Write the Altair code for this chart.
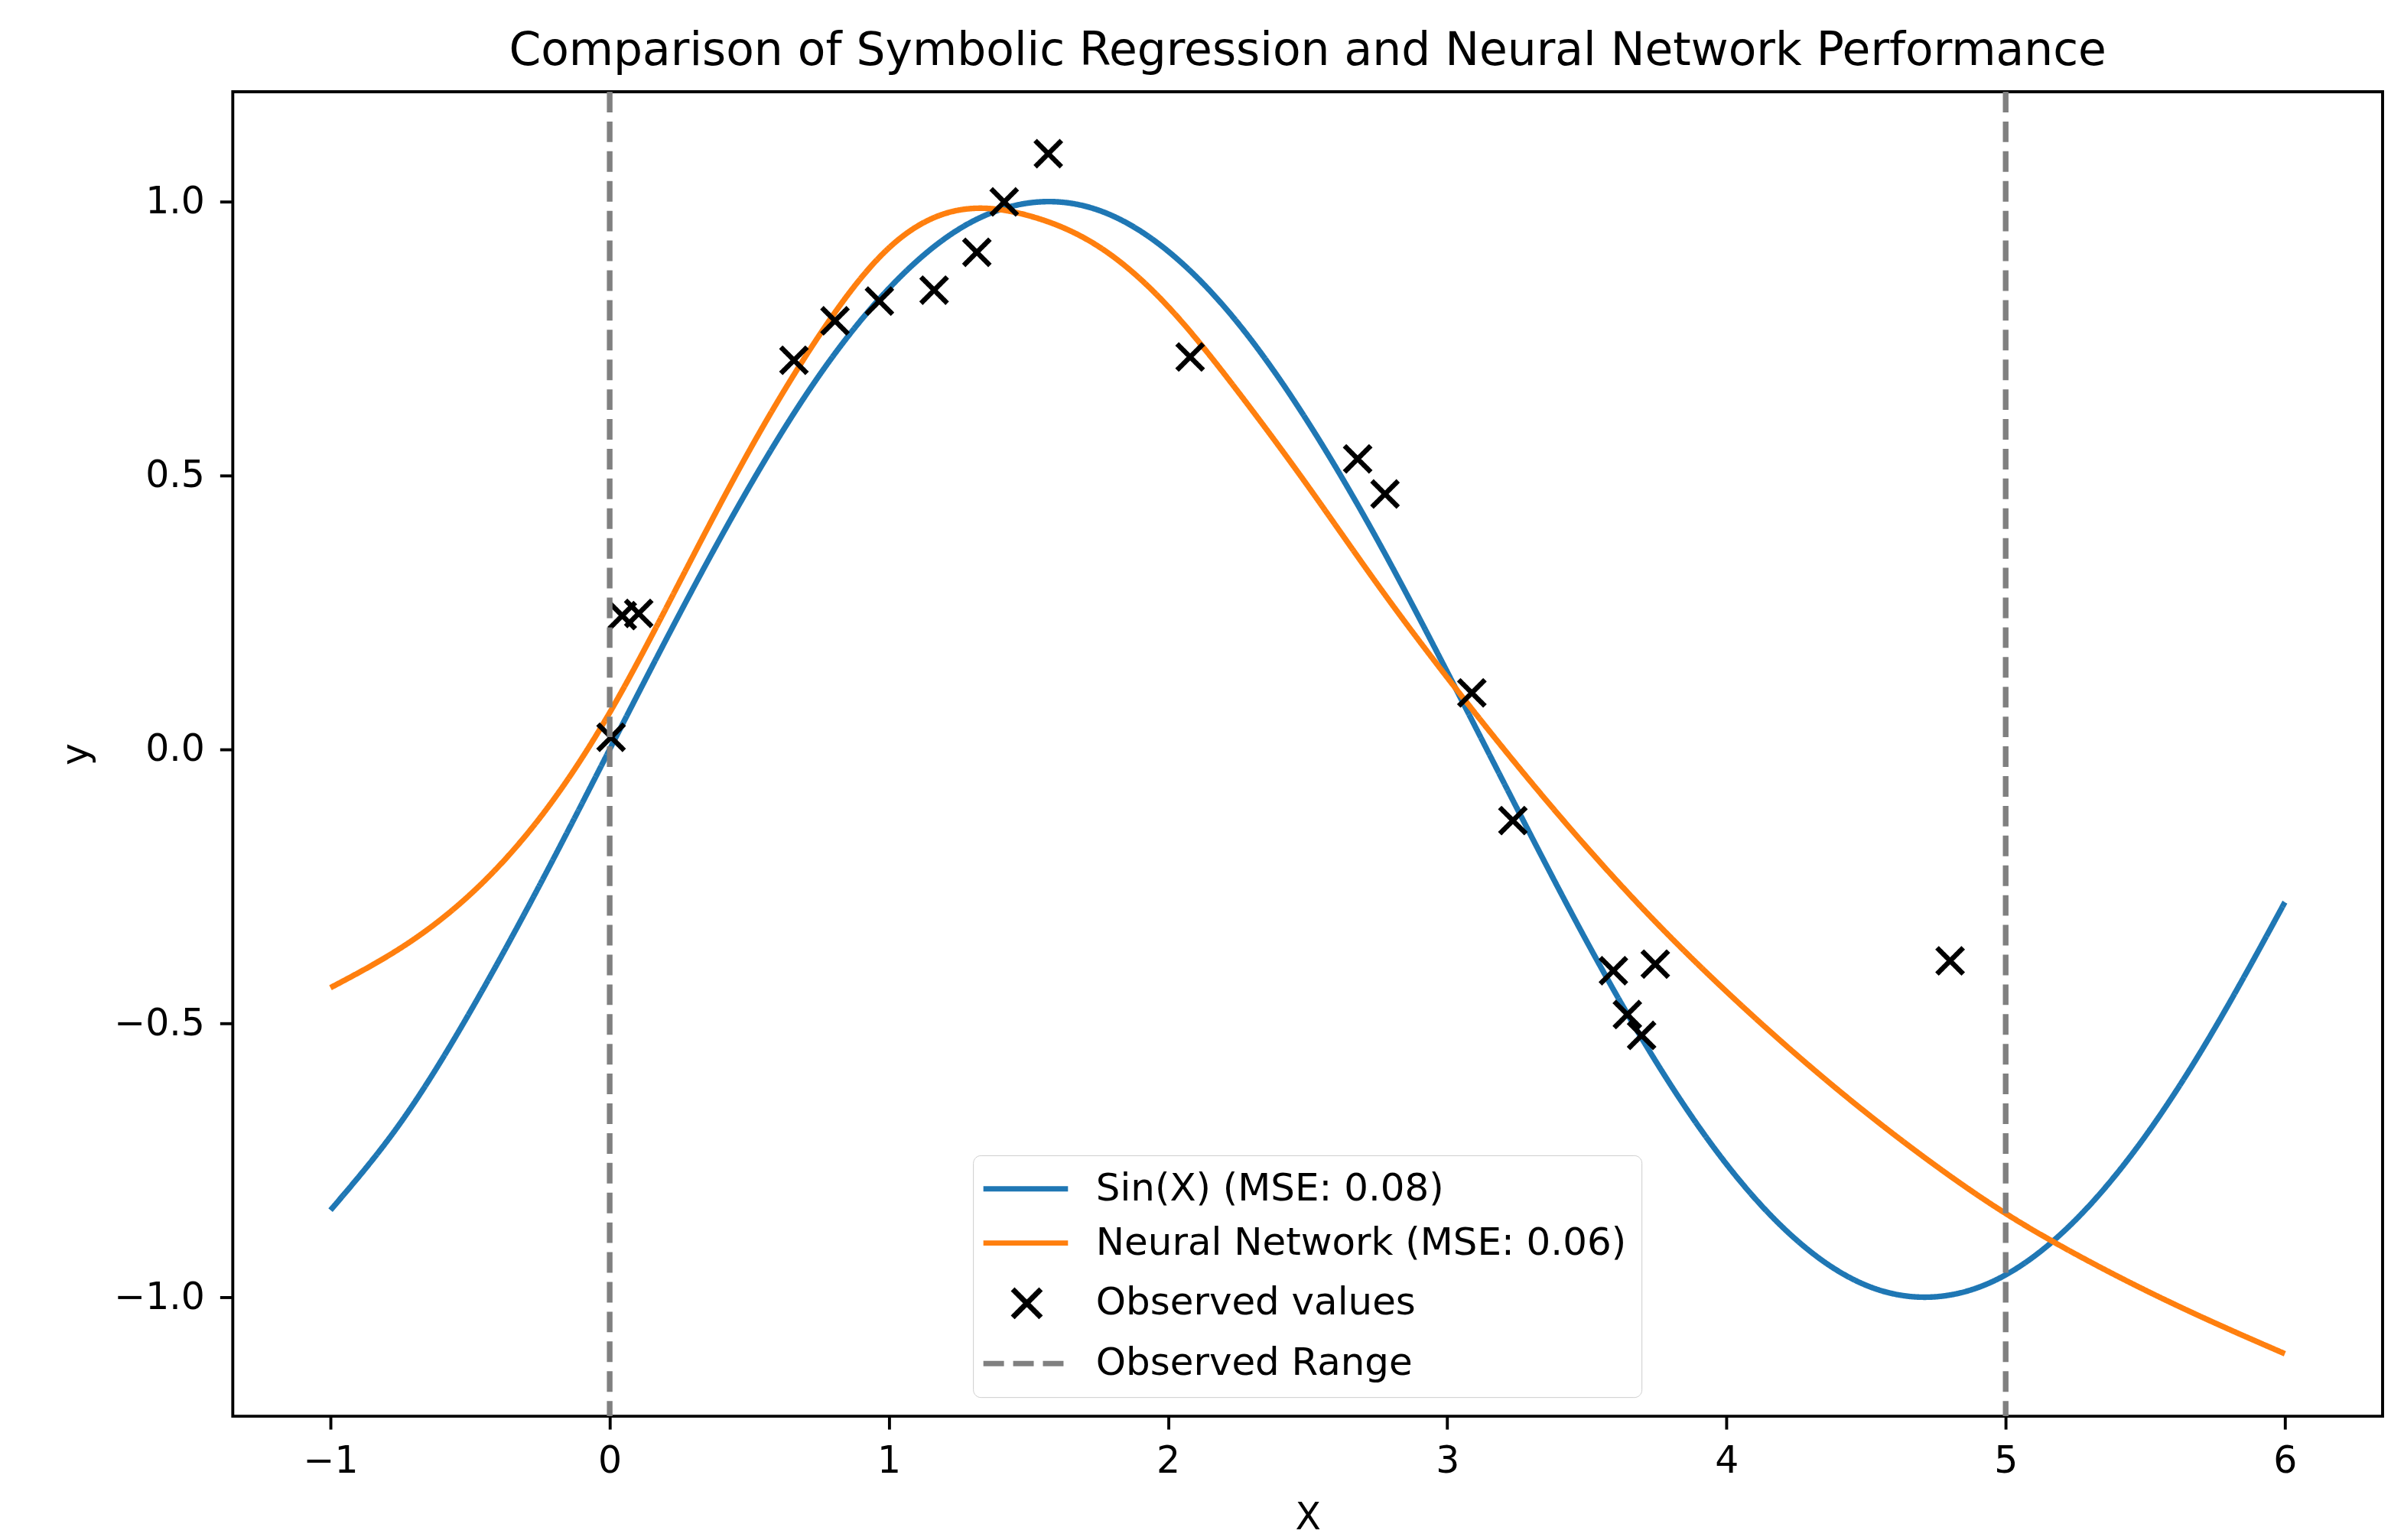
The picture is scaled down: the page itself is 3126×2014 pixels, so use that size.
import altair as alt
import pandas as pd

TITLE = "Comparison of Symbolic Regression and Neural Network Performance"
SERIES = ["Sin(X) (MSE: 0.08)", "Neural Network (MSE: 0.06)", "Observed values", "Observed Range"]
COLORS = ["#1f77b4", "#ff7f0e", "#000000", "#808080"]

# marker used on the plot (centred cross)
X_MARK = "M-0.31,-0.31L0.31,0.31M-0.31,0.31L0.31,-0.31"
# legend handle shapes (line handles and a cross centred on the handle)
LEG_LINE = "M-1.45,0L3.83,0"
LEG_CROSS = "M0.38,-0.88L2.14,0.88M0.38,0.88L2.14,-0.88"

curve_x = [-1.0, -0.75, -0.5, -0.25, 0.0, 0.25, 0.5, 0.75, 1.0, 1.25, 1.5, 1.75, 2.0, 2.25,
           2.5, 2.75, 3.0, 3.25, 3.5, 3.75, 4.0, 4.25, 4.5, 4.75, 5.0, 5.25, 5.5, 5.75, 6.0]
sin_y = [-0.841, -0.682, -0.479, -0.247, 0.0, 0.247, 0.479, 0.682, 0.841, 0.949, 0.997, 0.984,
         0.909, 0.778, 0.598, 0.382, 0.141, -0.108, -0.351, -0.572, -0.757, -0.895, -0.978,
         -0.999, -0.959, -0.859, -0.706, -0.508, -0.279]
nn_y = [-0.435, -0.363, -0.265, -0.125, 0.067, 0.305, 0.545, 0.755, 0.915, 0.984, 0.974, 0.918,
        0.808, 0.653, 0.481, 0.301, 0.131, -0.029, -0.179, -0.317, -0.442, -0.557, -0.663,
        -0.760, -0.847, -0.921, -0.987, -1.047, -1.103]

obs_x = [0.005, 0.045, 0.104, 0.66, 0.807, 0.966, 1.162, 1.315, 1.413, 1.571, 2.079, 2.679,
         2.777, 3.088, 3.235, 3.595, 3.645, 3.696, 3.745, 4.801]
obs_y = [0.022, 0.244, 0.248, 0.71, 0.782, 0.818, 0.838, 0.907, 0.999, 1.087, 0.716, 0.53,
         0.466, 0.103, -0.130, -0.404, -0.484, -0.522, -0.392, -0.386]

range_x = [0, 5]
x_ticks = [-1, 0, 1, 2, 3, 4, 5, 6]
y_ticks = [-1.0, -0.5, 0.0, 0.5, 1.0]

curves = pd.DataFrame({
    "x": curve_x + curve_x,
    "y": sin_y + nn_y,
    "series": [SERIES[0]] * len(curve_x) + [SERIES[1]] * len(curve_x),
    "order": list(range(len(curve_x))) * 2,
})
points = pd.DataFrame({"x": obs_x, "y": obs_y, "series": [SERIES[2]] * len(obs_x)})
ranges = pd.DataFrame({"x": range_x, "series": [SERIES[3]] * len(range_x)})
empty = pd.DataFrame({"x": pd.Series([], dtype=float), "y": pd.Series([], dtype=float),
                      "series": pd.Series([], dtype=str)})

FONT = "DejaVu Sans"

x_enc = alt.X("x:Q",
              scale=alt.Scale(domain=[-1.35, 6.35], nice=False, zero=False),
              axis=alt.Axis(values=x_ticks, format="d", title="X", titleY=109,
                            titleBaseline="top", labelPadding=18))
y_enc = alt.Y("y:Q",
              scale=alt.Scale(domain=[-1.217, 1.2], nice=False, zero=False),
              axis=alt.Axis(values=y_ticks, format=".1f", title="y", labelPadding=20,
                            titleAngle=270, titleX=-190, titleY=868, titleAlign="center",
                            titleBaseline="alphabetic"))

color_enc = alt.Color("series:N", scale=alt.Scale(domain=SERIES, range=COLORS),
                      legend=alt.Legend(title=None))
dash_enc = alt.StrokeDash("series:N",
                          scale=alt.Scale(domain=SERIES, range=[[1, 0], [1, 0], [1, 0], [27, 12]]),
                          legend=alt.Legend(title=None))
shape_enc = alt.Shape("series:N",
                      scale=alt.Scale(domain=SERIES, range=[LEG_LINE, LEG_LINE, LEG_CROSS, LEG_LINE]),
                      legend=alt.Legend(title=None))

lines = alt.Chart(curves).mark_line(strokeWidth=7.4, interpolate="natural").encode(
    x=x_enc, y=y_enc, color=color_enc, strokeDash=dash_enc, order="order:Q"
)
pts = alt.Chart(points).mark_point(filled=False, shape=X_MARK, size=12321, strokeWidth=6.5,
                                   opacity=1).encode(
    x=x_enc, y=y_enc, color=color_enc, strokeDash=dash_enc
)
legend_layer = alt.Chart(empty).mark_point(filled=False, size=1764, strokeWidth=7,
                                           opacity=1).encode(
    x=x_enc, y=y_enc, color=color_enc, shape=shape_enc, strokeDash=dash_enc
)
rules = alt.Chart(ranges).mark_rule(strokeWidth=7.4).encode(
    x=x_enc, color=color_enc, strokeDash=dash_enc
)

chart = alt.layer(lines, pts, rules, legend_layer).properties(
    width=2817,
    height=1736,
    autosize=alt.AutoSizeParams(type="none"),
    padding={"left": 297, "top": 110, "right": 3, "bottom": 162},
    title=alt.Title(TITLE, fontSize=60, font=FONT, fontWeight="normal", anchor="middle",
                    frame="group", offset=18, color="black"),
).configure_view(
    stroke="black", strokeWidth=3.9
).configure_axis(
    grid=False, domain=False, ticks=True, tickColor="black", tickWidth=3.9, tickSize=17,
    labelFont=FONT, labelFontSize=49, labelColor="black",
    titleFont=FONT, titleFontSize=49, titleFontWeight="normal", titleColor="black",
).configure_legend(
    orient="none", legendX=970, legendY=1394,
    labelFont=FONT, labelFontSize=50, labelColor="black", labelLimit=0,
    symbolSize=1764, symbolStrokeWidth=7, labelOffset=92, padding=19, rowPadding=21,
    strokeColor="#cccccc", fillColor="rgba(255,255,255,0.8)", cornerRadius=10,
)

chart.save("out.html", embed_options={"renderer": "svg", "actions": False})
